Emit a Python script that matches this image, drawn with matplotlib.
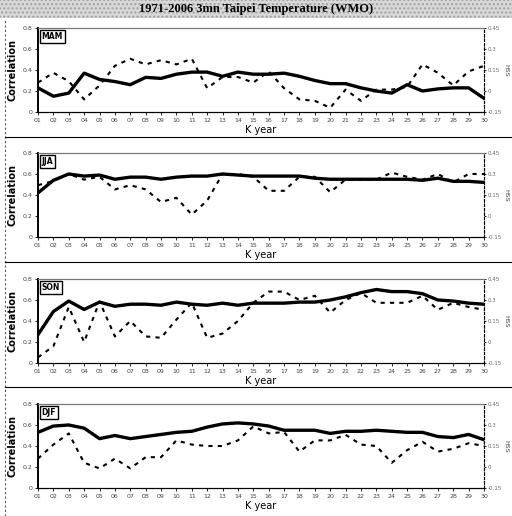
import matplotlib.pyplot as plt
from matplotlib.patches import Rectangle
from matplotlib.lines import Line2D

# x categories: K year 01..30
kyears = ["%02d" % i for i in range(1, 31)]

seasons = ["MAM", "JJA", "SON", "DJF"]

# correlation (solid, left axis)
corr_mam = [0.23, 0.15, 0.18, 0.37, 0.31, 0.29, 0.26, 0.33, 0.32, 0.36,
            0.38, 0.38, 0.34, 0.38, 0.36, 0.36, 0.37, 0.34, 0.30, 0.27,
            0.27, 0.23, 0.20, 0.18, 0.26, 0.20, 0.22, 0.23, 0.23, 0.13]
corr_jja = [0.42, 0.54, 0.60, 0.58, 0.59, 0.55, 0.57, 0.57, 0.55, 0.57,
            0.58, 0.58, 0.60, 0.59, 0.58, 0.58, 0.58, 0.58, 0.56, 0.55,
            0.55, 0.55, 0.55, 0.55, 0.55, 0.54, 0.56, 0.53, 0.53, 0.52]
corr_son = [0.27, 0.49, 0.59, 0.51, 0.58, 0.54, 0.56, 0.56, 0.55, 0.58,
            0.56, 0.55, 0.57, 0.55, 0.57, 0.57, 0.57, 0.58, 0.58, 0.60,
            0.63, 0.67, 0.70, 0.68, 0.68, 0.66, 0.60, 0.59, 0.57, 0.56]
corr_djf = [0.53, 0.59, 0.60, 0.57, 0.47, 0.50, 0.47, 0.49, 0.51, 0.53,
            0.54, 0.58, 0.61, 0.62, 0.61, 0.59, 0.55, 0.55, 0.55, 0.52,
            0.54, 0.54, 0.55, 0.54, 0.53, 0.53, 0.49, 0.48, 0.51, 0.46]

# HSS (dashed, right axis)
hss_mam = [0.06, 0.13, 0.07, -0.06, 0.04, 0.18, 0.23, 0.19, 0.22, 0.19,
           0.23, 0.02, 0.10, 0.10, 0.06, 0.14, 0.02, -0.06, -0.07, -0.12,
           0.01, -0.07, 0.01, 0.01, 0.03, 0.19, 0.13, 0.04, 0.14, 0.18]
hss_jja = [0.22, 0.25, 0.30, 0.26, 0.28, 0.19, 0.22, 0.19, 0.10, 0.13,
           0.01, 0.11, 0.30, 0.30, 0.28, 0.18, 0.18, 0.28, 0.28, 0.17,
           0.26, 0.26, 0.26, 0.31, 0.28, 0.26, 0.30, 0.24, 0.30, 0.30]
hss_son = [-0.11, -0.03, 0.25, 0.00, 0.29, 0.04, 0.15, 0.04, 0.03, 0.16,
           0.28, 0.03, 0.06, 0.15, 0.28, 0.36, 0.36, 0.30, 0.33, 0.21,
           0.30, 0.35, 0.28, 0.28, 0.28, 0.33, 0.23, 0.28, 0.25, 0.23]
hss_djf = [0.06, 0.16, 0.24, 0.03, -0.01, 0.06, -0.01, 0.07, 0.07, 0.19,
           0.16, 0.15, 0.15, 0.19, 0.29, 0.24, 0.25, 0.11, 0.19, 0.19,
           0.23, 0.16, 0.15, 0.03, 0.12, 0.18, 0.11, 0.13, 0.17, 0.15]

corr_all = [corr_mam, corr_jja, corr_son, corr_djf]
hss_all = [hss_mam, hss_jja, hss_son, hss_djf]

left_ticks = [0, 0.2, 0.4, 0.6, 0.8]
left_labels = ["0", "0.2", "0.4", "0.6", "0.8"]
right_ticks = [-0.15, 0, 0.15, 0.3, 0.45]
right_labels = ["-0.15", "0", "0.15", "0.3", "0.45"]

fig = plt.figure(figsize=(5.12, 5.16), dpi=100)
fig.patch.set_facecolor("white")

# title bar
fig.add_artist(Rectangle((0, 1 - 18 / 516), 1, 18 / 516, transform=fig.transFigure,
                         facecolor="#d8d8d8", edgecolor="#a0a0a0", hatch="....",
                         linewidth=0))
fig.text(0.5, 1 - 9 / 516, "1971-2006 3mn Taipei Temperature (WMO)", ha="center",
         va="center", fontsize=9, fontweight="bold", family="Liberation Serif")

# frame lines
fig.add_artist(Line2D([5 / 512, 5 / 512], [0, 1 - 20 / 516], transform=fig.transFigure,
                      color="#555555", lw=0.8, ls=(0, (2, 2))))
for ysep in [137, 262, 387]:
    fig.add_artist(Line2D([5 / 512, 1], [1 - ysep / 516] * 2, transform=fig.transFigure,
                          color="black", lw=0.8))

tops = [28, 153, 279, 404]
x = list(range(len(kyears)))

for i in range(4):
    bottom = 1 - (tops[i] + 84) / 516
    ax = fig.add_axes([38 / 512, bottom, 446 / 512, 84 / 516])
    ax2 = ax.twinx()

    ax.plot(x, corr_all[i], color="black", lw=2.4, solid_joinstyle="round", zorder=3)
    ax2.plot(x, hss_all[i], color="black", lw=1.5, ls=(0, (2, 2.5)))

    ax.set_xlim(0, 29)
    ax.set_ylim(0, 0.8)
    ax2.set_ylim(-0.15, 0.45)
    ax.set_zorder(ax2.get_zorder() + 1)
    ax.patch.set_visible(False)

    ax.set_xticks(x)
    ax.set_xticklabels(kyears, fontsize=4.5, color="#444444")
    ax.set_yticks(left_ticks)
    ax.set_yticklabels(left_labels, fontsize=4.5, color="#444444")
    ax2.set_yticks(right_ticks)
    ax2.set_yticklabels(right_labels, fontsize=4, color="#666666")
    ax.tick_params(length=2, width=0.6, pad=2)
    ax2.tick_params(length=1.5, width=0.6, pad=1)

    for a in (ax, ax2):
        a.spines["top"].set_linestyle((0, (1, 1)))
        a.spines["top"].set_color("#777777")
        a.spines["right"].set_linestyle((0, (2, 2)))
        a.spines["bottom"].set_linestyle((0, (1, 1)))
        a.spines["left"].set_linewidth(1.2)

    ax.set_ylabel("Correlation", fontsize=7, fontweight="bold", labelpad=4)
    ax.set_xlabel("K year", fontsize=7, labelpad=2)
    fig.text(506 / 512, bottom + 42 / 516, "HSS", rotation=270, fontsize=4.5,
             color="#444444", ha="center", va="center")

    ax.text(0.008, 0.95, seasons[i], transform=ax.transAxes, fontsize=5.5,
            fontweight="bold", ha="left", va="top",
            bbox=dict(boxstyle="square,pad=0.25", facecolor="white", edgecolor="black", lw=1))

fig.savefig("out.png", dpi=100)
